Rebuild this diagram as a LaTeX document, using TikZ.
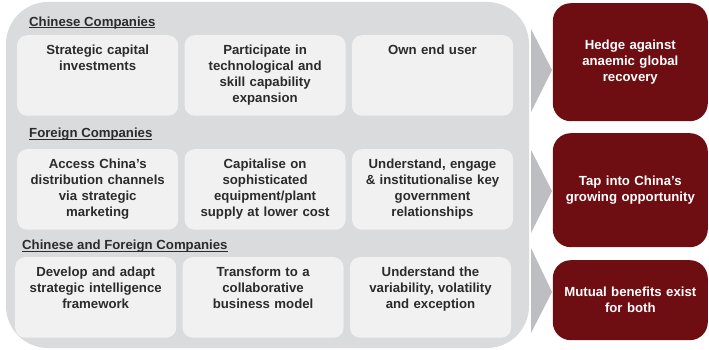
\documentclass[tikz,border=0pt]{standalone}
\usepackage{fontspec}
\setmainfont{Liberation Sans}
\usepackage{xcolor}
\usepackage{tikz}
\usetikzlibrary{positioning}

\definecolor{panelgray}{RGB}{218,219,221}
\definecolor{cellgray}{RGB}{241,241,241}
\definecolor{arrowgray}{RGB}{189,190,193}
\definecolor{darkred}{RGB}{110,14,18}
\definecolor{inkgray}{RGB}{43,43,43}

\newcommand{\headline}[1]{\setbox0\hbox{#1}\rlap{\rule[-1.8pt]{\wd0}{0.8pt}}\box0}

\begin{document}
\begin{tikzpicture}[x=1pt, y=1pt, node distance=6pt,
    cell/.style={rectangle, fill=cellgray, rounded corners=10pt, text width=152pt, align=center, inner xsep=4.5pt, inner ysep=10pt, text height=9.5pt, text depth=51pt, minimum width=161pt, minimum height=80pt, font=\fontsize{13.2}{16}\selectfont\bfseries, text=inkgray, anchor=north west},
    head/.style={anchor=base west, inner sep=0pt, font=\fontsize{13.2}{16}\selectfont\bfseries, text=inkgray},
    goal/.style={rectangle, fill=darkred, rounded corners=18pt, text width=145pt, align=center, minimum width=155pt, anchor=north east, font=\fontsize{13.2}{16}\selectfont\bfseries, text=white},
    chevron/.style={fill=arrowgray}]

    \useasboundingbox (0,0) rectangle (709,349);

    \fill [panelgray, rounded corners=42pt] (6,1) rectangle (529,347);

    \node [head] (chn) at (29,323) {\headline{Chinese Companies}};
    \node [cell] (capital) at (17,314) {Strategic capital\\investments};
    \node [cell, right=of capital] (skill) {Participate in\\technological and\\skill capability\\expansion};
    \node [cell, right=of skill] (enduser) {Own end user};

    \node [head] (frn) at (29,211.5) {\headline{Foreign Companies}};
    \node [cell] (access) at (17,200) {Access China's\\distribution channels\\via strategic\\marketing};
    \node [cell, right=of access] (plant) {Capitalise on\\sophisticated\\equipment/plant\\supply at lower cost};
    \node [cell, right=of plant] (govt) {Understand, engage\\\& institutionalise key\\government\\relationships};

    \node [head] (both) at (22,99.5) {\headline{Chinese and Foreign Companies}};
    \node [cell] (intel) at (15,92) {Develop and adapt\\strategic intelligence\\framework};
    \node [cell, right=of intel] (collab) {Transform to a\\collaborative\\business model};
    \node [cell, right=of collab] (vol) {Understand the\\variability, volatility\\and exception};

    \fill [chevron] (531,320) -- (552,279) -- (531,237) -- cycle;
    \fill [chevron] (531,199) -- (552,158) -- (531,116) -- cycle;
    \fill [chevron] (531,101) -- (552,57) -- (531,16) -- cycle;

    \node [goal, minimum height=118pt] (hedge) at (708,346) {Hedge against\\anaemic global\\recovery};
    \node [goal, minimum height=114pt] (tap) at (708,216) {Tap into China's\\growing opportunity};
    \node [goal, minimum height=80pt] (mutual) at (708,89) {Mutual benefits exist\\for both};
\end{tikzpicture}
\end{document}
